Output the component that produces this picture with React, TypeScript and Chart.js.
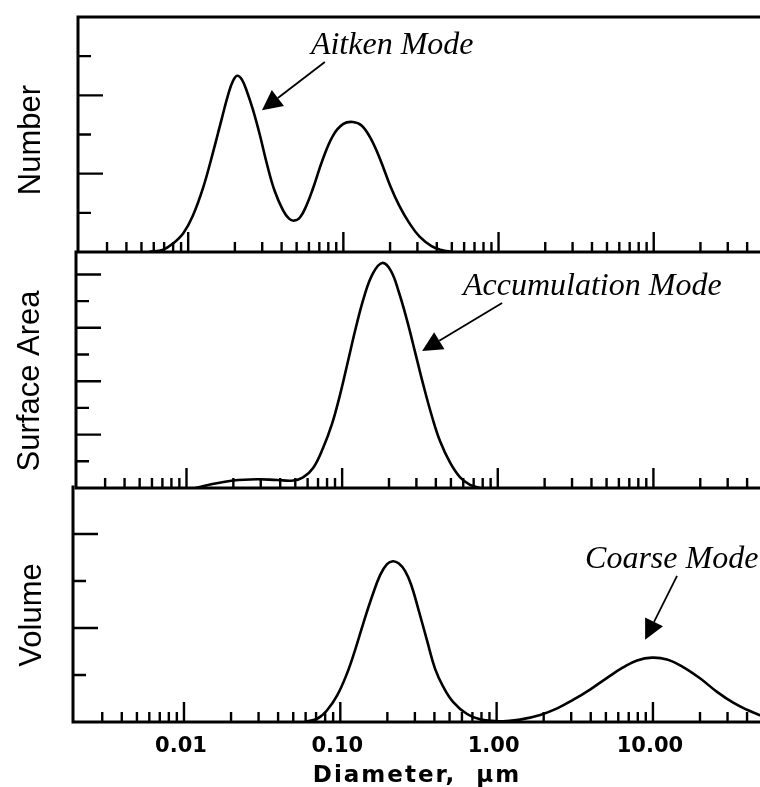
import React, { useEffect, useRef } from 'react';
import { Chart, registerables } from 'chart.js';

Chart.register(...registerables);

// ---------------- data ----------------
const diameterMin = 0.00195;
const diameterMax = 48.4;

const decadeTicks = [0.01, 0.1, 1, 10];
const decadeLabels = ['0.01', '0.10', '1.00', '10.00'];
const minorTicks = [
  0.002, 0.003, 0.004, 0.005, 0.006, 0.007, 0.008, 0.009,
  0.02, 0.03, 0.04, 0.05, 0.06, 0.07, 0.08, 0.09,
  0.2, 0.3, 0.4, 0.5, 0.6, 0.7, 0.8, 0.9,
  2, 3, 4, 5, 6, 7, 8, 9,
  20, 30, 40,
];

const numberDiameter = [0.0056, 0.0069, 0.008, 0.0093, 0.0107, 0.0125, 0.0144, 0.0165, 0.0181, 0.0194, 0.0207, 0.0222, 0.024, 0.0262, 0.029, 0.0322, 0.036, 0.0408, 0.0445, 0.048, 0.0525, 0.058, 0.0637, 0.0739, 0.086, 0.1, 0.115, 0.131, 0.15, 0.172, 0.2, 0.23, 0.265, 0.31, 0.37, 0.43, 0.5];
const numberValue = [0, 0.06, 0.22, 0.48, 0.92, 1.65, 2.52, 3.42, 4.02, 4.36, 4.5, 4.4, 4.08, 3.62, 2.98, 2.24, 1.57, 1.07, 0.86, 0.8, 0.88, 1.2, 1.62, 2.38, 2.98, 3.27, 3.32, 3.23, 2.9, 2.38, 1.7, 1.17, 0.75, 0.39, 0.15, 0.05, 0];

const surfaceDiameter = [0.0114, 0.0142, 0.0199, 0.0284, 0.0382, 0.0484, 0.0561, 0.0651, 0.0754, 0.0861, 0.097, 0.109, 0.123, 0.139, 0.158, 0.181, 0.205, 0.231, 0.262, 0.294, 0.331, 0.379, 0.426, 0.494, 0.573, 0.664, 0.77];
const surfaceValue = [0, 0.13, 0.28, 0.33, 0.3, 0.28, 0.4, 0.75, 1.5, 2.4, 3.5, 4.75, 6.05, 7.2, 8.05, 8.43, 8.15, 7.35, 6.25, 5.1, 3.9, 2.65, 1.75, 0.95, 0.4, 0.12, 0];

const volumeDiameter = [0.0595, 0.072, 0.0823, 0.0953, 0.11, 0.124, 0.14, 0.16, 0.18, 0.199, 0.217, 0.237, 0.26, 0.284, 0.314, 0.359, 0.404, 0.454, 0.526, 0.647, 0.783, 0.977, 1.15, 1.41, 1.9, 2.44, 3.08, 3.96, 5.09, 6.44, 7.91, 9.87, 12.3, 15.6, 20.0, 25.7, 32.6, 40.0, 47.1, 52.0];
const volumeValue = [0, 0.08, 0.25, 0.56, 1.02, 1.52, 2.09, 2.68, 3.13, 3.36, 3.42, 3.37, 3.21, 2.92, 2.43, 1.73, 1.13, 0.76, 0.43, 0.17, 0.06, 0.02, 0.02, 0.05, 0.15, 0.29, 0.47, 0.69, 0.94, 1.16, 1.31, 1.37, 1.33, 1.17, 0.93, 0.64, 0.41, 0.26, 0.16, 0.11];

const numberYTicks = [1, 2, 3, 4, 5];
const surfaceYTicks = [1, 2, 3, 4, 5, 6, 7, 8];
const volumeYTicks = [1, 2, 3, 4];
const numberYMax = 6;
const surfaceYMax = 8.84;
const volumeYMax = 5;

const panelTitles = ['Number', 'Surface Area', 'Volume'];
const xTitle = 'Diameter,  \u00B5m';

// annotation anchors in data units [diameter, value]
const aitkenLabel = { text: 'Aitken Mode', at: [0.0618, 5.05], from: [0.076, 4.85], to: [0.0299, 3.62] };
const accumulationLabel = { text: 'Accumulation Mode', at: [0.598, 7.23], from: [1.066, 6.93], to: [0.3266, 5.13] };
const coarseLabel = { text: 'Coarse Mode', at: [3.68, 3.28], from: [14.26, 3.11], to: [8.91, 1.75] };

// ---------------- drawing helpers ----------------
type Note = { text: string; at: number[]; from: number[]; to: number[] };

type PanelCfg = {
  title: string;
  xs: number[];
  ys: number[];
  yMax: number;
  yTicks: number[];
  top: number;
  height: number;
  padTop: number;
  padBottom: number;
  left: number;
  titleBaselineX: number;
  titleDy: number;
  drawTop: boolean;
  showX: boolean;
  note: Note;
};

function drawArrow(ctx: CanvasRenderingContext2D, x1: number, y1: number, x2: number, y2: number) {
  const ang = Math.atan2(y2 - y1, x2 - x1);
  const head = 20;
  const half = 10;
  const bx = x2 - head * Math.cos(ang);
  const by = y2 - head * Math.sin(ang);
  ctx.lineWidth = 1.8;
  ctx.beginPath();
  ctx.moveTo(x1, y1);
  ctx.lineTo(bx, by);
  ctx.stroke();
  ctx.beginPath();
  ctx.moveTo(x2, y2);
  ctx.lineTo(bx + half * Math.sin(ang), by - half * Math.cos(ang));
  ctx.lineTo(bx - half * Math.sin(ang), by + half * Math.cos(ang));
  ctx.closePath();
  ctx.fill();
}

function makeDecor(cfg: PanelCfg) {
  return {
    id: 'decor',
    afterDraw(chart: any) {
      const { ctx, chartArea: a, scales } = chart;
      const xs = scales.x;
      const ys = scales.y;
      ctx.save();
      ctx.strokeStyle = '#000';
      ctx.fillStyle = '#000';
      ctx.lineCap = 'butt';

      // frame
      ctx.lineWidth = 3;
      ctx.beginPath();
      if (cfg.drawTop) {
        ctx.moveTo(a.left - 1.5, a.top);
        ctx.lineTo(a.right, a.top);
      }
      ctx.moveTo(a.left, a.top - 1.5);
      ctx.lineTo(a.left, a.bottom + 1.5);
      ctx.moveTo(a.left - 1.5, a.bottom);
      ctx.lineTo(a.right, a.bottom);
      ctx.stroke();

      // x ticks (inward)
      ctx.lineWidth = 2.4;
      ctx.beginPath();
      const allX = [...decadeTicks.map((v) => [v, 20]), ...minorTicks.map((v) => [v, 10])];
      for (const [v, len] of allX) {
        const px = xs.getPixelForValue(v);
        if (px < a.left + 3 || px > a.right) continue;
        ctx.moveTo(px, a.bottom);
        ctx.lineTo(px, a.bottom - len);
      }
      ctx.stroke();

      // y ticks (inward)
      ctx.beginPath();
      for (const v of cfg.yTicks) {
        const py = ys.getPixelForValue(v);
        const len = v % 2 === 0 ? 25 : 13;
        ctx.moveTo(a.left, py);
        ctx.lineTo(a.left + len, py);
      }
      ctx.stroke();

      // y title
      ctx.save();
      ctx.font = '31px "Liberation Sans", Arial, sans-serif';
      ctx.textAlign = 'center';
      ctx.textBaseline = 'alphabetic';
      ctx.translate(cfg.titleBaselineX, (a.top + a.bottom) / 2 + cfg.titleDy);
      ctx.rotate(-Math.PI / 2);
      ctx.fillText(cfg.title, 0, 0);
      ctx.restore();

      // annotation
      const n = cfg.note;
      ctx.font = 'italic 32px "Liberation Serif", "Times New Roman", serif';
      ctx.textAlign = 'left';
      ctx.textBaseline = 'alphabetic';
      ctx.fillText(n.text, xs.getPixelForValue(n.at[0]), ys.getPixelForValue(n.at[1]));
      drawArrow(
        ctx,
        xs.getPixelForValue(n.from[0]),
        ys.getPixelForValue(n.from[1]),
        xs.getPixelForValue(n.to[0]),
        ys.getPixelForValue(n.to[1])
      );

      // x title
      if (cfg.showX) {
        ctx.font = 'bold 23px "DejaVu Sans", sans-serif';
        (ctx as any).letterSpacing = '2px';
        ctx.textAlign = 'center';
        ctx.fillText(xTitle, 417, 782 - cfg.top);
        (ctx as any).letterSpacing = '0px';
      }
      ctx.restore();
    },
  };
}

const panels: PanelCfg[] = [
  {
    title: panelTitles[0], xs: numberDiameter, ys: numberValue, yMax: numberYMax, yTicks: numberYTicks,
    top: 0, height: 262, padTop: 17, padBottom: 10, left: 78, titleBaselineX: 40, titleDy: 5.5,
    drawTop: true, showX: false, note: aitkenLabel,
  },
  {
    title: panelTitles[1], xs: surfaceDiameter, ys: surfaceValue, yMax: surfaceYMax, yTicks: surfaceYTicks,
    top: 242, height: 256, padTop: 10, padBottom: 10, left: 76, titleBaselineX: 39, titleDy: 11,
    drawTop: false, showX: false, note: accumulationLabel,
  },
  {
    title: panelTitles[2], xs: volumeDiameter, ys: volumeValue, yMax: volumeYMax, yTicks: volumeYTicks,
    top: 477, height: 310, padTop: 10, padBottom: 0, left: 73, titleBaselineX: 41, titleDy: 10.5,
    drawTop: false, showX: true, note: coarseLabel,
  },
];

function Panel({ cfg }: { cfg: PanelCfg }) {
  const ref = useRef<HTMLCanvasElement | null>(null);
  useEffect(() => {
    if (!ref.current) return;
    const data = cfg.xs.map((x, i) => ({ x, y: cfg.ys[i] }));
    const chart = new Chart(ref.current, {
      type: 'line',
      data: {
        datasets: [
          {
            data,
            borderColor: '#000',
            borderWidth: 2.6,
            pointRadius: 0,
            fill: false,
            tension: 0.4,
          } as any,
        ],
      },
      options: {
        animation: false,
        responsive: false,
        devicePixelRatio: 1,
        layout: { padding: { left: cfg.left, right: 0, top: cfg.padTop, bottom: cfg.padBottom } },
        plugins: { legend: { display: false }, tooltip: { enabled: false }, title: { display: false } },
        events: [],
        scales: {
          x: {
            type: 'logarithmic',
            min: diameterMin,
            max: diameterMax,
            display: cfg.showX,
            grid: { display: false, drawTicks: false },
            border: { display: false },
            afterBuildTicks: (scale: any) => {
              scale.ticks = [...decadeTicks, ...minorTicks]
                .sort((p, q) => p - q)
                .filter((v) => v >= diameterMin && v <= diameterMax)
                .map((v) => ({ value: v }));
            },
            afterFit: (scale: any) => {
              if (cfg.showX) scale.height = 65;
            },
            ticks: {
              autoSkip: false,
              maxRotation: 0,
              minRotation: 0,
              padding: 12,
              labelOffset: -3,
              color: '#000',
              font: { family: '"DejaVu Sans", sans-serif', weight: 'bold', size: 21 },
              callback: (v: any) => {
                const i = decadeTicks.findIndex((m) => Math.abs(m - Number(v)) / m < 1e-6);
                return i >= 0 ? decadeLabels[i] : '';
              },
            },
          } as any,
          y: {
            type: 'linear',
            min: 0,
            max: cfg.yMax,
            display: false,
          },
        },
      },
      plugins: [makeDecor(cfg) as any],
    });
    return () => chart.destroy();
  }, [cfg]);
  return (
    <canvas
      ref={ref}
      width={760}
      height={cfg.height}
      style={{ position: 'absolute', left: 0, top: cfg.top, width: 760, height: cfg.height }}
    />
  );
}

export default function App() {
  return (
    <div style={{ position: 'fixed', left: 0, top: 0, width: 760, height: 787, background: '#fff', overflow: 'hidden' }}>
      {panels.map((p, i) => (
        <Panel key={i} cfg={p} />
      ))}
    </div>
  );
}
